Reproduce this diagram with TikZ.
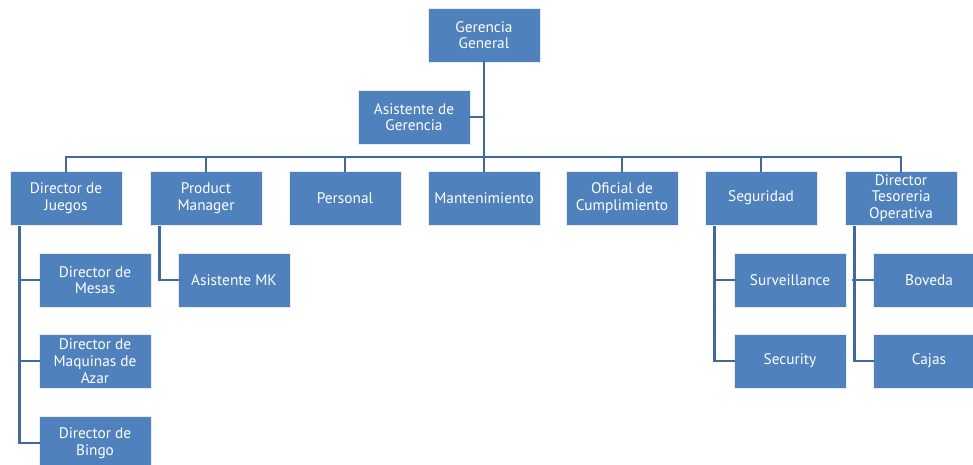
\documentclass[tikz,border=0pt]{standalone}
\usepackage{fontspec}
\setmainfont{PT Sans}
\usepackage{xcolor}
\usetikzlibrary{calc}
\definecolor{boxblue}{HTML}{4F81BD}
\definecolor{lineblue}{HTML}{41699B}
\tikzset{
  every picture/.style={line join=miter, line cap=rect},
  orgbox/.style={draw=white!85!boxblue, line width=0.6pt, fill=boxblue, text=white,
    minimum width=84pt, minimum height=40.5pt, inner sep=1pt, align=center,
    font=\fontsize{11.5}{12.5}\selectfont},
  link/.style={draw=lineblue, line width=2.2pt},
}

\begin{document}
\begin{tikzpicture}[x=0.75pt,y=-0.75pt]
\useasboundingbox (0,0) rectangle (973,464);
\node[orgbox](gg) at (484,35){Gerencia\\General};
\node[orgbox](asis) at (414,117){Asistente de\\Gerencia};
\node[orgbox](juegos) at (66,198){Director de\\Juegos};
\node[orgbox](pm) at (206,198){Product\\Manager};
\node[orgbox](pers) at (345,198){Personal};
\node[orgbox](mant) at (484,198){Mantenimiento};
\node[orgbox](ofic) at (622,198){Oficial de\\Cumplimiento};
\node[orgbox](seg) at (761,198){Seguridad};
\node[orgbox](teso) at (901,198){Director\\Tesoreria\\Operativa};
\node[orgbox](mesas) at (95,280){Director de\\Mesas};
\node[orgbox](maq) at (95,361){Director de\\Maquinas de\\Azar};
\node[orgbox](bingo) at (95,443){Director de\\Bingo};
\node[orgbox](amk) at (234,280){Asistente MK};
\node[orgbox](surv) at (790,280){Surveillance};
\node[orgbox](secu) at (790,361){Security};
\node[orgbox](bov) at (929,280){Boveda};
\node[orgbox](cajas) at (929,361){Cajas};
\coordinate (bus) at (484,157);
\draw[link] (gg.south) -- (mant.north);
\draw[link] (asis.east) -- (asis.east -| gg.south);
\draw[link] (juegos.north) |- (bus);
\draw[link] (pm.north) |- (bus);
\draw[link] (pers.north) |- (bus);
\draw[link] (ofic.north) |- (bus);
\draw[link] (seg.north) |- (bus);
\draw[link] (teso.north) |- (bus);
\draw[link] ($(juegos.south west)+(10,2)$) |- (bingo.west);
\draw[link] (mesas.west) -- ++(-19,0);
\draw[link] (maq.west) -- ++(-19,0);
\draw[link] ($(pm.south west)+(10,2)$) |- (amk.west);
\draw[link] ($(seg.south west)+(10,2)$) |- (secu.west);
\draw[link] (surv.west) -- ++(-19,0);
\draw[link] ($(teso.south west)+(10,2)$) |- (cajas.west);
\draw[link] (bov.west) -- ++(-19,0);
\end{tikzpicture}
\end{document}
